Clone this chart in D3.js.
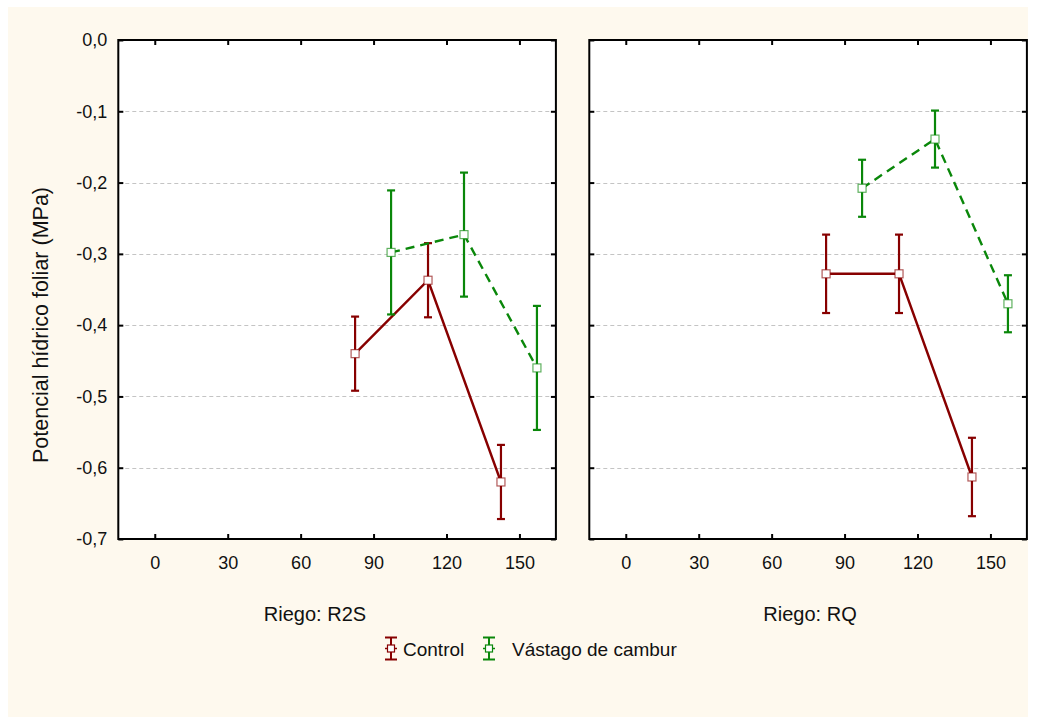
<!DOCTYPE html>
<html>
<head>
<meta charset="utf-8">
<script src="https://cdn.jsdelivr.net/npm/d3@7"></script>
<style>
  html, body { margin: 0; padding: 0; background: #ffffff; }
  svg { display: block; font-family: "Liberation Sans", Arial, sans-serif; }
</style>
</head>
<body>
<svg id="chart" width="1038" height="719"></svg>
<script>
// Days after planting (categories on the x axis)
const days = [90, 120, 150];
const xTicks = [0, 30, 60, 90, 120, 150];
const yTicks = [0, -0.1, -0.2, -0.3, -0.4, -0.5, -0.6, -0.7];
const seriesNames = ["Control", "Vástago de cambur"];
const panelNames = ["Riego: R2S", "Riego: RQ"];

// Leaf water potential (MPa): means and half-widths of the error bars
const r2sControl = [-0.440, -0.337, -0.620];
const r2sControlErr = [0.052, 0.052, 0.052];
const r2sVastago = [-0.298, -0.273, -0.460];
const r2sVastagoErr = [0.087, 0.087, 0.087];
const rqControl = [-0.328, -0.328, -0.613];
const rqControlErr = [0.055, 0.055, 0.055];
const rqVastago = [-0.208, -0.139, -0.370];
const rqVastagoErr = [0.040, 0.040, 0.040];

const panels = [
  { title: panelNames[0], series: [
      { name: seriesNames[0], mean: r2sControl, err: r2sControlErr },
      { name: seriesNames[1], mean: r2sVastago, err: r2sVastagoErr } ] },
  { title: panelNames[1], series: [
      { name: seriesNames[0], mean: rqControl, err: rqControlErr },
      { name: seriesNames[1], mean: rqVastago, err: rqVastagoErr } ] }
];

// Styling and layout
const colors = ["#870000", "#0a870a"];
const dashes = [null, "9,6"];
const dodge = [-7.6, 7.2];          // horizontal offset of each group around the day
const panelLeft = [118.3, 589.3];
const panelW = 437.6;
const plotTop = 40, plotBottom = 539;
const titleX = [315, 810];
const font = "'Liberation Sans', Arial, sans-serif";

const svg = d3.select("#chart");

// cream page background
svg.append("rect").attr("x", 8).attr("y", 7).attr("width", 1020).attr("height", 710)
  .attr("fill", "#fef9ee");

const locale = d3.formatLocale({ decimal: ",", thousands: ".", grouping: [3], currency: ["", ""], minus: "-" });
const fmt = locale.format(".1f");

const y = d3.scaleLinear().domain([-0.7, 0]).range([plotBottom, plotTop]);

panels.forEach((p, pi) => {
  const g = svg.append("g").attr("transform", `translate(${panelLeft[pi]},0)`);
  const x = d3.scaleLinear().domain([-15, 165]).range([0, panelW]);

  g.append("rect").attr("x", 0).attr("y", plotTop).attr("width", panelW).attr("height", plotBottom - plotTop)
    .attr("fill", "#ffffff");

  // horizontal dashed grid
  g.append("g").selectAll("line").data(yTicks.filter(v => v < 0 && v > -0.7)).join("line")
    .attr("x1", 0).attr("x2", panelW)
    .attr("y1", d => Math.round(y(d)) + 0.5).attr("y2", d => Math.round(y(d)) + 0.5)
    .attr("stroke", "#c4c4c4").attr("stroke-width", 1).attr("stroke-dasharray", "4,3");

  // axes with inward ticks
  const axB = g.append("g").attr("transform", `translate(0,${plotBottom})`)
    .call(d3.axisBottom(x).tickValues(xTicks).tickSize(-5).tickPadding(17).tickFormat(d3.format("d")));
  const axT = g.append("g").attr("transform", `translate(0,${plotTop})`)
    .call(d3.axisTop(x).tickValues(xTicks).tickSize(-5).tickFormat(""));
  const axL = g.append("g")
    .call(d3.axisLeft(y).tickValues(yTicks).tickSize(-5).tickPadding(11).tickFormat(pi === 0 ? fmt : ""));
  const axR = g.append("g").attr("transform", `translate(${panelW},0)`)
    .call(d3.axisRight(y).tickValues(yTicks).tickSize(-5).tickFormat(""));
  [axB, axT, axL, axR].forEach(a => {
    a.select(".domain").remove();
    a.selectAll(".tick line").attr("stroke", "#000").attr("stroke-width", 2);
    a.selectAll("text").attr("font-family", font).attr("font-size", 18).attr("fill", "#111");
  });

  // frame
  g.append("rect").attr("x", 0).attr("y", plotTop).attr("width", panelW).attr("height", plotBottom - plotTop)
    .attr("fill", "none").attr("stroke", "#000").attr("stroke-width", 2);

  // series
  p.series.forEach((s, si) => {
    const pts = days.map((d, i) => ({ x: x(d + dodge[si]), m: s.mean[i], e: s.err[i] }));
    const sg = g.append("g");
    // error bars
    const eb = sg.selectAll("g.eb").data(pts).join("g").attr("class", "eb");
    eb.append("line").attr("x1", d => d.x).attr("x2", d => d.x)
      .attr("y1", d => y(d.m + d.e)).attr("y2", d => y(d.m - d.e))
      .attr("stroke", colors[si]).attr("stroke-width", 2.2);
    [1, -1].forEach(sgn => {
      eb.append("line").attr("x1", d => d.x - 4).attr("x2", d => d.x + 4)
        .attr("y1", d => y(d.m + sgn * d.e)).attr("y2", d => y(d.m + sgn * d.e))
        .attr("stroke", colors[si]).attr("stroke-width", 2.2);
    });
    // connecting line
    sg.append("path").datum(pts)
      .attr("d", d3.line().x(d => d.x).y(d => y(d.m)))
      .attr("fill", "none").attr("stroke", colors[si]).attr("stroke-width", 2.4)
      .attr("stroke-dasharray", dashes[si]);
    // square markers
    sg.selectAll("rect.mk").data(pts).join("rect").attr("class", "mk")
      .attr("x", d => d.x - 4).attr("y", d => y(d.m) - 4).attr("width", 8).attr("height", 8)
      .attr("fill", "#fff").attr("stroke", colors[si]).attr("stroke-opacity", 0.65).attr("stroke-width", 1.2);
  });

  svg.append("text").attr("x", titleX[pi]).attr("y", 621).attr("text-anchor", "middle")
    .attr("font-family", font).attr("font-size", 20).attr("fill", "#111").text(p.title);
});

// y axis title
svg.append("text").attr("transform", "translate(48,325) rotate(-90)").attr("text-anchor", "middle")
  .attr("font-family", font).attr("font-size", 21.5).attr("fill", "#111")
  .text("Potencial hídrico foliar (MPa)");

// legend
const legendItems = [
  { name: seriesNames[0], cx: 391, tx: 403 },
  { name: seriesNames[1], cx: 489, tx: 512 }
];
const lg = svg.append("g");
legendItems.forEach((it, i) => {
  const c = colors[i], cy = 648.5;
  lg.append("line").attr("x1", it.cx).attr("x2", it.cx).attr("y1", cy - 11).attr("y2", cy + 11)
    .attr("stroke", c).attr("stroke-width", 2);
  [-11, 11].forEach(o => lg.append("line").attr("x1", it.cx - 6).attr("x2", it.cx + 6)
    .attr("y1", cy + o).attr("y2", cy + o).attr("stroke", c).attr("stroke-width", 2));
  lg.append("line").attr("x1", it.cx - 6).attr("x2", it.cx + 6).attr("y1", cy).attr("y2", cy)
    .attr("stroke", c).attr("stroke-width", 1.5);
  lg.append("rect").attr("x", it.cx - 3.5).attr("y", cy - 3.5).attr("width", 7).attr("height", 7)
    .attr("fill", "#fff").attr("stroke", c).attr("stroke-width", 1.2);
  lg.append("text").attr("x", it.tx).attr("y", 656).attr("font-family", font).attr("font-size", 19)
    .attr("fill", "#111").text(it.name);
});
</script>
</body>
</html>
